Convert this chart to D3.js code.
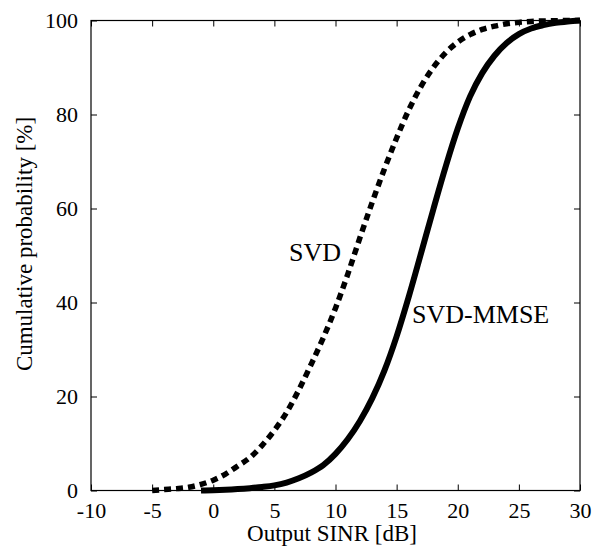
<!DOCTYPE html>
<html>
<head>
<meta charset="utf-8">
<script src="https://cdn.jsdelivr.net/npm/d3@7/dist/d3.min.js"></script>
<style>
  body { margin: 0; background: #fff; }
  svg { display: block; }
  text { font-family: "Liberation Serif", "Times New Roman", serif; fill: #000; }
</style>
</head>
<body>
<svg id="chart" width="600" height="548"></svg>
<script>
// ---- data ----
const sinrDb = [-5,-4,-3,-2,-1,0,1,2,3,4,5,6,7,8,9,10,11,12,13,14,15,16,17,18,19,20,21,22,23,24,25,26,27,28,29,30];
const svdCdf = [0,0.2,0.4,0.7,1.3,2.2,3.5,5.2,7.0,9.6,12.8,16.6,21.4,26.8,32.5,38.8,46.0,53.8,61.3,68.4,75.0,81.0,86.0,90.0,93.1,95.4,97.0,98.1,98.8,99.3,99.6,99.8,99.9,99.95,100,100];
const mmseDb = [-1,0,1,2,3,4,5,6,7,8,9,10,11,12,13,14,15,16,17,18,19,20,21,22,23,24,25,26,27,28,29,30];
const mmseCdf = [0,0.05,0.15,0.3,0.5,0.75,1.1,1.7,2.6,3.8,5.4,7.8,10.9,14.8,19.6,25.5,32.8,41.3,50.5,59.8,68.8,77.0,83.8,88.8,92.5,95.2,97.1,98.3,99.0,99.5,99.8,100];
const xTicks = [-10,-5,0,5,10,15,20,25,30];
const yTicks = [0,20,40,60,80,100];
const seriesLabels = ["SVD","SVD-MMSE"];
const xTitle = "Output SINR [dB]";
const yTitle = "Cumulative probability [%]";

// ---- layout ----
const L = 91, R = 580, T = 20.5, B = 490.5;
const svg = d3.select("#chart");
const x = d3.scaleLinear().domain([-10, 30]).range([L, R]);
const y = d3.scaleLinear().domain([0, 100]).range([B, T]);
const tickLen = 6;

// axes (inward ticks, mirrored)
const fmt = d => String(d);  // plain hyphen minus, as in the reference
const gBottom = svg.append("g").attr("transform", `translate(0,${B})`)
  .call(d3.axisBottom(x).tickValues(xTicks).tickSizeInner(-tickLen).tickSizeOuter(0).tickPadding(tickLen + 6).tickFormat(fmt));
const gTop = svg.append("g").attr("transform", `translate(0,${T})`)
  .call(d3.axisTop(x).tickValues(xTicks).tickSizeInner(-tickLen).tickSizeOuter(0).tickFormat(""));
const gLeft = svg.append("g").attr("transform", `translate(${L},0)`)
  .call(d3.axisLeft(y).tickValues(yTicks).tickSizeInner(-tickLen).tickSizeOuter(0).tickPadding(tickLen + 7).tickFormat(fmt));
const gRight = svg.append("g").attr("transform", `translate(${R},0)`)
  .call(d3.axisRight(y).tickValues(yTicks).tickSizeInner(-tickLen).tickSizeOuter(0).tickFormat(""));

[gBottom, gTop, gLeft, gRight].forEach(g => {
  g.select(".domain").remove();
  g.selectAll("line").attr("stroke", "#000").attr("stroke-width", 1);
  g.selectAll("text").attr("font-family", "Liberation Serif, serif").attr("font-size", 22).attr("fill", "#000");
});

// frame
svg.append("rect").attr("x", L).attr("y", T).attr("width", R - L).attr("height", B - T)
  .attr("fill", "none").attr("stroke", "#000").attr("stroke-width", 1.2);

// curves
const line = d3.line().x(d => x(d[0])).y(d => y(d[1])).curve(d3.curveMonotoneX);
svg.append("path")
  .datum(sinrDb.map((v, i) => [v, svdCdf[i]]))
  .attr("d", line).attr("fill", "none").attr("stroke", "#000")
  .attr("stroke-width", 5.5).attr("stroke-dasharray", "7,5");
svg.append("path")
  .datum(mmseDb.map((v, i) => [v, mmseCdf[i]]))
  .attr("d", line).attr("fill", "none").attr("stroke", "#000")
  .attr("stroke-width", 6);

// series labels
svg.append("text").attr("x", 289).attr("y", 261).attr("font-size", 26).text(seriesLabels[0]);
svg.append("text").attr("x", 412).attr("y", 323).attr("font-size", 26).text(seriesLabels[1]);

// axis titles
svg.append("text").attr("x", 332).attr("y", 541).attr("text-anchor", "middle")
  .attr("font-size", 23).text(xTitle);
svg.append("text").attr("transform", `translate(32,244) rotate(-90)`)
  .attr("text-anchor", "middle").attr("font-size", 23).text(yTitle);
</script>
</body>
</html>
